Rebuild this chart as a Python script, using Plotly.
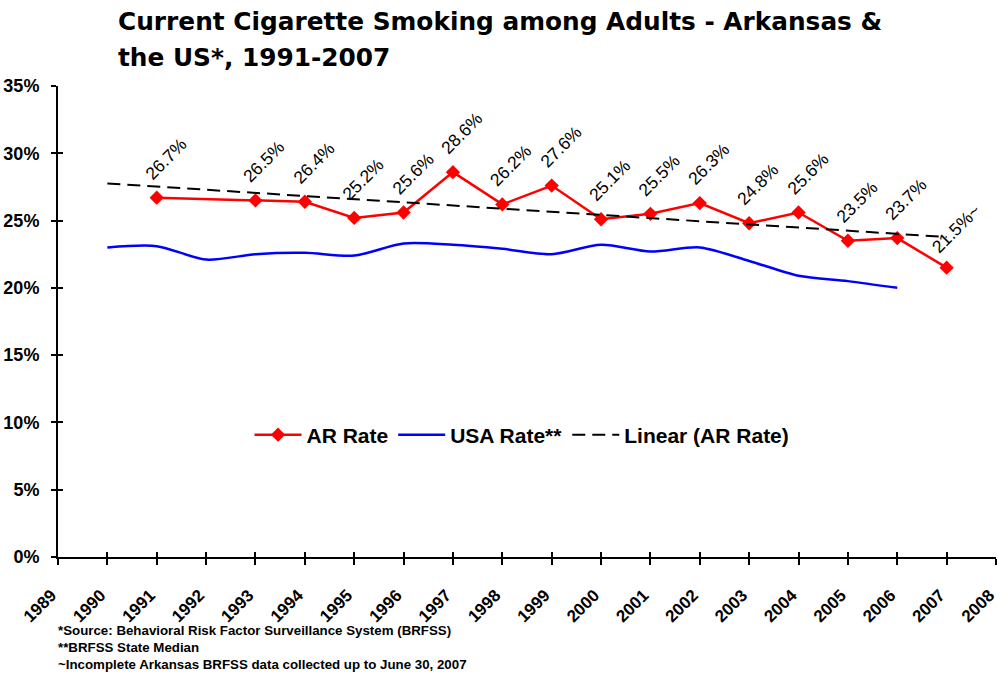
import numpy as np
import plotly.graph_objects as go

# ---- data ----
ar_years = [1991, 1993, 1994, 1995, 1996, 1997, 1998, 1999, 2000, 2001, 2002, 2003, 2004, 2005, 2006, 2007]
ar_rate = [26.7, 26.5, 26.4, 25.2, 25.6, 28.6, 26.2, 27.6, 25.1, 25.5, 26.3, 24.8, 25.6, 23.5, 23.7, 21.5]
ar_label_suffix = {2007: "~"}

usa_years = [1990, 1991, 1992, 1993, 1994, 1995, 1996, 1997, 1998, 1999, 2000, 2001, 2002, 2003, 2004, 2005, 2006]
usa_rate = [23.0, 23.1, 22.1, 22.5, 22.6, 22.4, 23.3, 23.2, 22.9, 22.5, 23.2, 22.7, 23.0, 22.0, 20.9, 20.5, 20.0]

trend_years = [1990, 2007]

x_ticks = list(range(1989, 2009))
y_ticks = [0, 5, 10, 15, 20, 25, 30, 35]

title_lines = ["Current Cigarette Smoking among Adults - Arkansas &", "the US*, 1991-2007"]
footnotes = [
    "*Source: Behavioral Risk Factor Surveillance System (BRFSS)",
    "**BRFSS State Median",
    "~Incomplete Arkansas BRFSS data collected up to June 30, 2007",
]

# linear trendline (least squares fit of AR rate, as Excel's "Linear (AR Rate)")
slope, intercept = np.polyfit(ar_years, ar_rate, 1)
trend_vals = [slope * yr + intercept for yr in trend_years]

# ---- layout geometry ----
W, H = 997, 677
L, R, T, B = 58, 1, 86, 120
PW = W - L - R
PH = H - T - B
FONT = "Liberation Sans, Arial, sans-serif"
TITLE_FONT = "DejaVu Sans, Verdana, sans-serif"


def px_x(px):
    return (px - L) / PW


def px_y(py):
    return (H - B - py) / PH


fig = go.Figure()

fig.add_trace(go.Scatter(
    x=ar_years, y=ar_rate, name="AR Rate", mode="lines+markers",
    line=dict(color="#FF0000", width=2.5),
    marker=dict(symbol="diamond", size=11, color="#FF0000"),
    hoverinfo="skip",
))
fig.add_trace(go.Scatter(
    x=usa_years, y=usa_rate, name="USA Rate**", mode="lines",
    line=dict(color="#0000FF", width=2.5, shape="spline", smoothing=0.8),
    hoverinfo="skip",
))
fig.add_trace(go.Scatter(
    x=trend_years, y=trend_vals, name="Linear (AR Rate)", mode="lines",
    line=dict(color="black", width=2, dash="13px,7px"),
    hoverinfo="skip",
))
# helper trace for crossing tick marks (overlay axes)
fig.add_trace(go.Scatter(x=[], y=[], xaxis="x2", yaxis="y2", showlegend=False, hoverinfo="skip"))

annotations = []
# data labels
for yr, v in zip(ar_years, ar_rate):
    annotations.append(dict(
        x=yr, y=v, xref="x", yref="y",
        text=f"{v:.1f}%{ar_label_suffix.get(yr, '')}",
        showarrow=False, textangle=-45,
        xanchor="center", yanchor="middle",
        xshift=9, yshift=39,
        font=dict(family=FONT, size=17.5, color="black"),
    ))

# title lines
for txt, cy in zip(title_lines, [21.5, 57.4]):
    annotations.append(dict(
        x=px_x(116), y=px_y(cy), xref="paper", yref="paper",
        text=txt, showarrow=False, xanchor="left", yanchor="middle",
        font=dict(family=TITLE_FONT, size=24.8, color="black", weight="bold"),
    ))

# footnotes
for txt, cy in zip(footnotes, [630.5, 647.2, 664.5]):
    annotations.append(dict(
        x=px_x(56), y=px_y(cy), xref="paper", yref="paper",
        text=txt, showarrow=False, xanchor="left", yanchor="middle",
        font=dict(family=FONT, size=13.3, color="black", weight="bold"),
    ))

axis_common = dict(showgrid=False, zeroline=False, automargin=False)

fig.update_layout(
    width=W, height=H,
    margin=dict(l=L, r=R, t=T, b=B, pad=0, autoexpand=False),
    paper_bgcolor="white", plot_bgcolor="white",
    showlegend=True,
    legend=dict(
        orientation="h", x=px_x(522), y=px_y(435),
        xanchor="center", yanchor="middle",
        font=dict(family=FONT, size=21, color="black", weight="bold"),
        bgcolor="rgba(0,0,0,0)", traceorder="normal",
        itemwidth=47,
    ),
    xaxis=dict(
        range=[1989, 2008], tickvals=x_ticks,
        ticktext=[f"{t}&nbsp;&nbsp;" for t in x_ticks],
        tickangle=-45, ticks="outside", ticklen=6, tickwidth=2, tickcolor="black",
        showline=True, linecolor="black", linewidth=2,
        tickfont=dict(family=FONT, size=17, color="black", weight="bold"),
        ticklabelstandoff=7, ticklabeloverflow="allow",
        **axis_common,
    ),
    yaxis=dict(
        range=[0, 35], tickvals=y_ticks, ticktext=[f"{t}%" for t in y_ticks],
        ticks="outside", ticklen=5, tickwidth=2, tickcolor="black",
        showline=True, linecolor="black", linewidth=2,
        tickfont=dict(family=FONT, size=18, color="black", weight="bold"),
        ticklabelstandoff=8,
        **axis_common,
    ),
    xaxis2=dict(
        range=[1989, 2008], tickvals=x_ticks, overlaying="x", anchor="y2",
        ticks="inside", ticklen=5, tickwidth=2, tickcolor="black",
        showticklabels=False, showline=False, **axis_common,
    ),
    yaxis2=dict(
        range=[0, 35], tickvals=y_ticks, overlaying="y", anchor="x2",
        ticks="inside", ticklen=5, tickwidth=2, tickcolor="black",
        showticklabels=False, showline=False, **axis_common,
    ),
    annotations=annotations,
)

fig.write_html("out.html")
